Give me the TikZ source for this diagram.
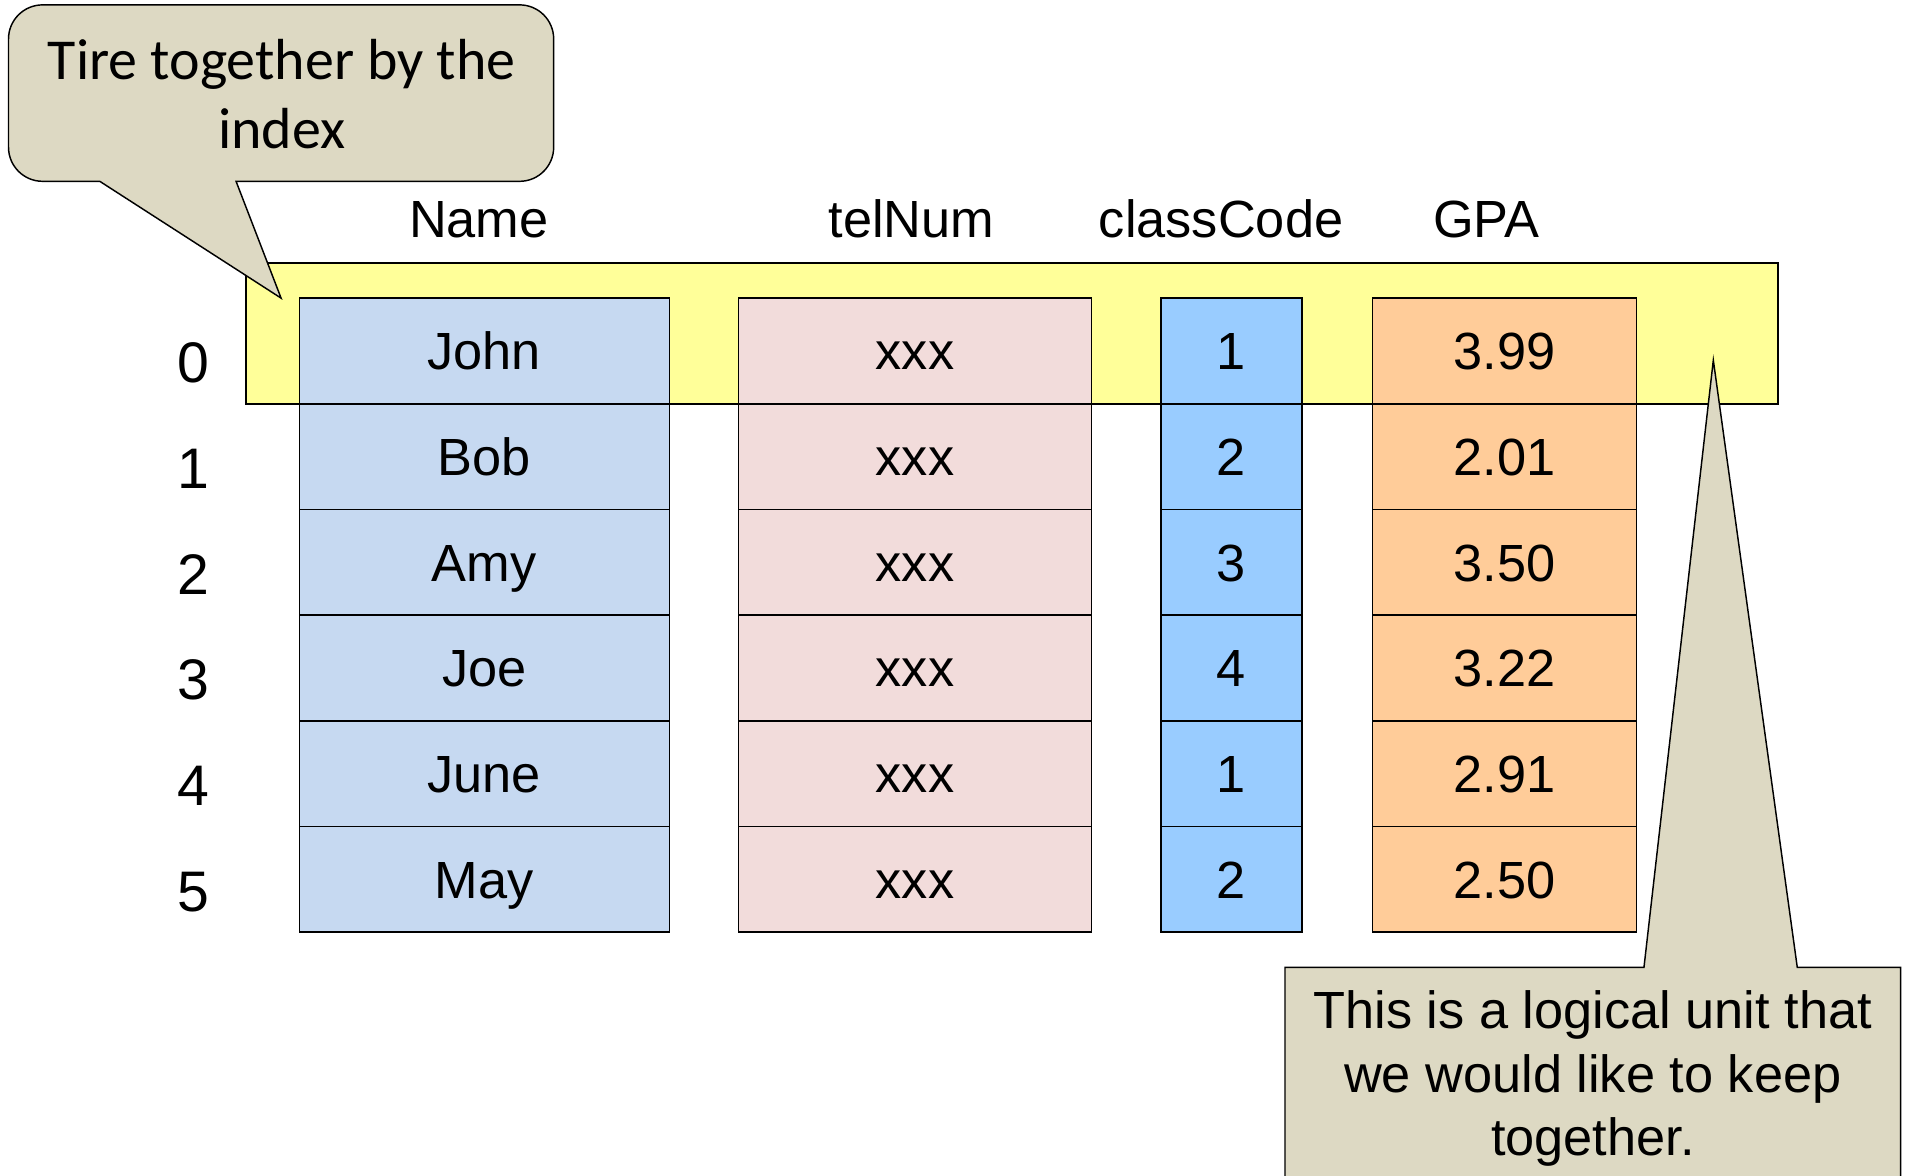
\documentclass[tikz,border=0pt]{standalone}
\usepackage{fontspec}
\setmainfont{Liberation Sans}
\newfontfamily\notefont{Carlito}

\definecolor{bandfill}{HTML}{FFFF99}
\definecolor{namefill}{HTML}{C6D9F1}
\definecolor{telfill}{HTML}{F2DCDB}
\definecolor{classfill}{HTML}{99CCFF}
\definecolor{gpafill}{HTML}{FFCC99}
\definecolor{notefill}{HTML}{DDD9C3}

\begin{document}
\begin{tikzpicture}[x=0.5pt, y=0.5pt,
  outline/.style={draw=black, line width=0.6pt},
  cell/.style={outline, minimum height=43.42pt, inner sep=0pt,
    font=\fontsize{21.5}{26}\selectfont, text height=15.4pt, text depth=0pt},
  header/.style={inner sep=0pt, font=\fontsize{21.5}{26}\selectfont,
    text height=15.4pt, text depth=0pt},
  rowindex/.style={inner sep=0pt, font=\fontsize{23.5}{28}\selectfont,
    text height=16.8pt, text depth=0pt},
  notebox/.style={outline, fill=notefill, line join=miter},
]
\clip (0,0) rectangle (1568,-966);

% highlighted record (row 0)
\path[outline, fill=bandfill] (202,-216) rectangle (1461,-332);
\coordinate (bandtipL) at (231,-245);
\coordinate (bandtipR) at (1408,-296);

% column headers
\node[header] (hName)  at (393.5,-179.7) {Name};
\node[header] (hTel)   at (749,-179.7)   {telNum};
\node[header] (hClass) at (1003.5,-179.7) {classCode};
\node[header] (hGPA)   at (1221.5,-179.7) {GPA};

% parallel arrays, one row per index
\foreach \nm/\cc/\gp [count=\i from 0] in
  {John/1/3.99, Bob/2/2.01, Amy/3/3.50, Joe/4/3.22, June/1/2.91, May/2/2.50} {
  \pgfmathsetmacro\yc{-(245+86.83*(\i+0.5))}
  \node[cell, fill=namefill,  minimum width=152pt]   (name\i)  at (398,\yc)    {\nm};
  \node[cell, fill=telfill,   minimum width=145pt]   (tel\i)   at (752,\yc)    {xxx};
  \node[cell, fill=classfill, minimum width=58pt]    (class\i) at (1012,\yc)   {\cc};
  \node[cell, fill=gpafill,   minimum width=108.5pt] (gpa\i)   at (1236.5,\yc) {\gp};
  \node[rowindex] (idx\i) at (159,\yc-9.5) {\i};
}

% callout: tie together by the index
\path[notebox] (82,-149) -- (35,-149)
  arc[start angle=270, end angle=180, radius=28] -- (7,-32)
  arc[start angle=180, end angle=90, radius=28] -- (427,-4)
  arc[start angle=90, end angle=0, radius=28] -- (455,-121)
  arc[start angle=0, end angle=-90, radius=28] -- (194,-149)
  -- (bandtipL) -- cycle;
\node[align=center, inner sep=0pt,
  font=\notefont\fontsize{23.8}{28.2}\selectfont] (indexnote) at (231.5,-77.4)
  {Tire together by the\\index};

% callout: logical unit
\path[notebox] (1056,-990) -- (1056,-795) -- (1351,-795) -- (bandtipR)
  -- (1477,-795) -- (1562,-795) -- (1562,-990) -- cycle;
\node[align=center, inner sep=0pt,
  font=\fontsize{21.5}{26}\selectfont] (unitnote) at (1309,-886.4)
  {This is a logical unit that\\we would like to keep\\together.};
\end{tikzpicture}
\end{document}
